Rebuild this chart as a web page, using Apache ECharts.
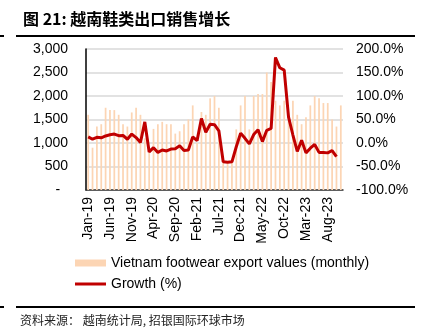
<!DOCTYPE html>
<html>
<head>
<meta charset="utf-8">
<script src="https://cdn.jsdelivr.net/npm/echarts@6/dist/echarts.min.js"></script>
<style>
html,body{margin:0;padding:0;background:#fff;}
#c{width:426px;height:329px;}
</style>
</head>
<body>
<div id="c"></div>
<script>
const categories = [
 'Jan-19','Feb-19','Mar-19','Apr-19','May-19','Jun-19','Jul-19','Aug-19','Sep-19','Oct-19','Nov-19','Dec-19',
 'Jan-20','Feb-20','Mar-20','Apr-20','May-20','Jun-20','Jul-20','Aug-20','Sep-20','Oct-20','Nov-20','Dec-20',
 'Jan-21','Feb-21','Mar-21','Apr-21','May-21','Jun-21','Jul-21','Aug-21','Sep-21','Oct-21','Nov-21','Dec-21',
 'Jan-22','Feb-22','Mar-22','Apr-22','May-22','Jun-22','Jul-22','Aug-22','Sep-22','Oct-22','Nov-22','Dec-22',
 'Jan-23','Feb-23','Mar-23','Apr-23','May-23','Jun-23','Jul-23','Aug-23','Sep-23','Oct-23','Nov-23'
];
const exportValues = [
 1600, 900,1350,1400,1750,1700,1700,1600,1400,1350,1650,1750,
 1600,1100, 800,1300,1400,1450,1400,1400,1200,1250,1400,1500,
 1800,1000,1660,1600,1950,2000,1750, 580, 560, 600,1290,1800,
 2000,1290,2000,2040,2040,2500,2300,1900,1800,1900,1550,1900,
 1600,1400,1550,1800,2000,1950,1850,1850,1500,1350,1800
];
const growth = [
 13, 8, 12, 11, 15, 17.5, 19, 15.5, 16, 8, 19, 11.5,
 1, 45, -19, -10, -20, -15, -17, -13, -12, -6, -16, -15,
 13, 5, 52, 23, 40, 39, 26, -40, -41, -40, -8, 21,
 10, -2, 18, 28, 3, 27, 31, 182, 160, 155, 55, 17,
 -18, 6, -21, -11, -3, -20, -20, -21, -16, -29
];
const leftTicks = {min: 0, max: 3000, interval: 500};
const rightTicks = {min: -100, max: 200, interval: 50};
const barName = 'Vietnam footwear export values (monthly)';
const lineName = 'Growth (%)';
const titleText = '图 21: 越南鞋类出口销售增长';
const sourceText = '资料来源： 越南统计局, 招银国际环球市场';

const chart = echarts.init(document.getElementById('c'), null, {renderer: 'canvas'});
const font = 'Liberation Sans, Arial, sans-serif';
chart.setOption({
  animation: false,
  backgroundColor: '#fff',
  title: {
    text: titleText, left: 18, top: 6,
    textStyle: {fontSize: 16, fontWeight: 'bold', color: '#000', fontFamily: 'Noto Sans CJK SC, Liberation Sans'}
  },
  graphic: [
    {type: 'rect', shape: {x: 16, y: 35, width: 399, height: 2}, style: {fill: '#000'}},
    {type: 'rect', shape: {x: 0, y: 35, width: 4, height: 2}, style: {fill: '#000'}},
    {type: 'rect', shape: {x: 16, y: 306, width: 399, height: 2}, style: {fill: '#000'}},
    {type: 'rect', shape: {x: 0, y: 306, width: 4, height: 2}, style: {fill: '#000'}},
    {type: 'text', left: 20, top: 314, style: {text: sourceText, fontSize: 12, fill: '#222', fontFamily: 'Noto Sans CJK SC'}}
  ],
  grid: {left: 86, right: 83, top: 49, bottom: 139, containLabel: false},
  legend: {
    orient: 'vertical', left: 70, top: 251, itemGap: 7, itemWidth: 31, itemHeight: 7,
    symbolKeepAspect: true,
    textStyle: {fontSize: 14, color: '#000', fontFamily: font},
    data: [
      {name: barName, icon: 'rect'},
      {name: lineName, icon: 'path://M0,0 L31,0 L31,3 L0,3 Z'}
    ]
  },
  xAxis: {
    type: 'category', data: categories, boundaryGap: true,
    axisLine: {lineStyle: {color: '#333', width: 1.5}},
    axisTick: {show: false},
    axisLabel: {interval: 4, rotate: 90, margin: 7, fontSize: 14, color: '#000', fontFamily: font}
  },
  yAxis: [
    {
      type: 'value', min: leftTicks.min, max: leftTicks.max, interval: leftTicks.interval,
      axisLine: {show: true, lineStyle: {color: '#000', width: 1.5}},
      axisTick: {show: false},
      splitLine: {lineStyle: {color: '#d9d9d9', width: 1.5}},
      axisLabel: {margin: 18, fontSize: 14, color: '#000', fontFamily: font,
        formatter: v => v === 0 ? '-  ' : v.toLocaleString('en-US')}
    },
    {
      type: 'value', min: rightTicks.min, max: rightTicks.max, interval: rightTicks.interval,
      axisLine: {show: false}, axisTick: {show: false}, splitLine: {show: false},
      axisLabel: {margin: 13, fontSize: 14, color: '#000', fontFamily: font,
        formatter: v => v.toFixed(1) + '%'}
    }
  ],
  series: [
    {
      name: barName, type: 'bar', data: exportValues, yAxisIndex: 0,
      barWidth: '40%', itemStyle: {color: '#fcd5b4'}
    },
    {
      name: lineName, type: 'line', data: growth, yAxisIndex: 1,
      symbol: 'none', lineStyle: {color: '#c00000', width: 3}, itemStyle: {color: '#c00000'}
    }
  ]
});
</script>
</body>
</html>
